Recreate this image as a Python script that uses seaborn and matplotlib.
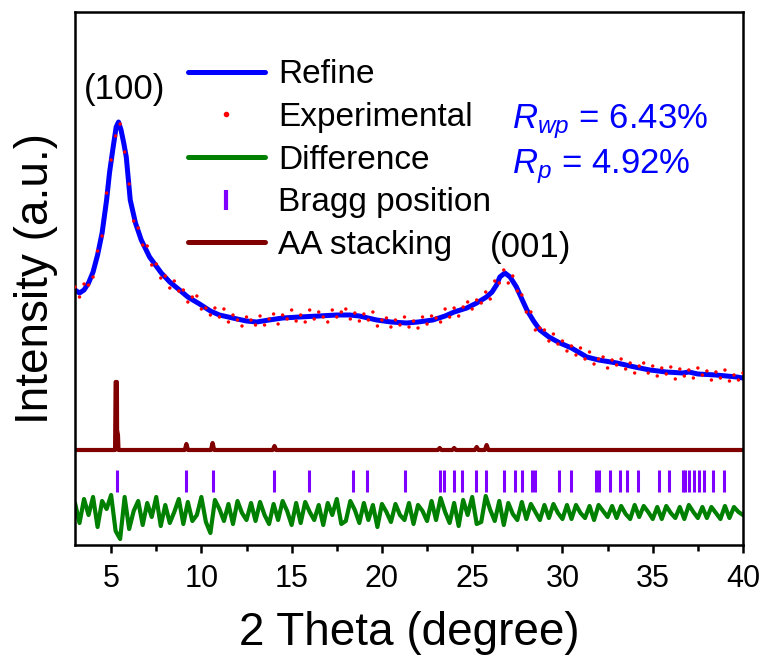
import numpy as np
import pandas as pd
import seaborn as sns
import matplotlib
matplotlib.use("Agg")
import matplotlib.pyplot as plt
from matplotlib.lines import Line2D

# ---------------- data ----------------
refine_x = [3.0, 3.25, 3.5, 3.75, 4.0, 4.25, 4.5, 4.75, 4.91, 5.09, 5.28, 5.41, 5.55, 5.7, 5.84,
            6.06, 6.35, 6.67, 7.13, 7.78, 8.25, 8.79, 9.25, 9.9, 10.5, 11.0, 11.73, 12.5, 13.06,
            13.75, 14.5, 15.44, 16.5, 17.5, 18.21, 18.75, 19.71, 20.5, 21.38, 22.0, 22.82, 23.5,
            24.0, 24.7, 25.25, 25.79, 26.1, 26.35, 26.53, 26.81, 27.1, 27.45, 27.75, 28.03, 28.4,
            28.75, 29.25, 29.86, 30.5, 31.35, 32.0, 33.02, 34.0, 34.84, 35.75, 36.67, 37.0, 37.5,
            38.5, 39.66, 40.0]
refine_y = [255, 252, 255, 262, 273, 290, 312, 345, 372, 395, 418, 423, 415, 402, 388,
            345, 322, 305, 288, 272, 263, 255, 248, 241, 234, 230, 227, 224, 223,
            225, 227, 228, 229, 230, 230, 229, 225, 223, 222, 223, 225, 229,
            233, 237, 242, 248, 253, 260, 268, 272, 268, 258, 246, 235, 224,
            215, 208, 202, 197, 188, 185, 182, 178, 175, 173, 172, 173, 171,
            170, 168, 167]

exp_x = np.arange(3.0, 40.001, 0.25)
exp_y = [258, 248, 261, 260, 268, 294, 309, 352, 385, 409,
         421, 393, 361, 324, 317, 300, 299, 280, 281, 267,
         269, 257, 264, 254, 255, 243, 248, 249, 236, 237,
         230, 237, 228, 236, 223, 230, 225, 219, 228, 225,
         220, 229, 220, 226, 231, 221, 230, 226, 235, 224,
         230, 223, 235, 226, 233, 228, 223, 235, 228, 233,
         236, 226, 232, 224, 231, 225, 233, 219, 225, 227,
         218, 225, 220, 228, 218, 224, 217, 228, 221, 229,
         227, 223, 236, 228, 237, 229, 238, 243, 236, 245,
         242, 253, 246, 264, 262, 275, 262, 269, 254, 250,
         233, 233, 215, 217, 215, 204, 211, 201, 204, 194,
         199, 190, 197, 186, 193, 181, 186, 188, 177, 185,
         180, 186, 176, 182, 172, 179, 182, 172, 179, 169,
         177, 171, 178, 166, 176, 169, 175, 167, 177, 170,
         174, 165, 173, 167, 175, 164, 170, 165, 172]

diff_y = [42, 22, 46, 30, 48, 18, 44, 36, 50, 14,
          6, 48, 16, 34, 44, 20, 42, 28, 48, 19,
          40, 22, 33, 46, 21, 43, 24, 30, 48, 23,
          12, 45, 36, 24, 41, 21, 44, 32, 25, 42,
          24, 43, 30, 21, 41, 25, 44, 34, 20, 42,
          22, 43, 33, 25, 40, 20, 42, 30, 46, 21,
          24, 44, 35, 22, 42, 25, 40, 18, 41, 33,
          23, 41, 30, 25, 42, 21, 40, 34, 24, 44,
          25, 47, 33, 22, 42, 19, 45, 30, 48, 21,
          23, 49, 35, 24, 44, 20, 42, 31, 25, 43,
          26, 41, 33, 25, 40, 27, 41, 32, 26, 40,
          26, 40, 32, 27, 39, 25, 40, 34, 28, 39,
          27, 39, 31, 26, 40, 28, 39, 33, 26, 38,
          26, 39, 32, 27, 38, 26, 40, 33, 27, 38,
          27, 38, 32, 26, 39, 27, 38, 33, 30]

aa_x = [3.0, 5.22, 5.25, 5.32, 5.33, 5.38, 5.41, 9.08, 9.17, 9.26, 10.53, 10.62, 10.71,
        13.96, 14.05, 14.14, 23.1, 23.2, 23.3, 23.9, 24.0, 24.1, 25.15, 25.25, 25.35,
        25.7, 25.8, 25.9, 40.0]
aa_y = [95, 95, 163, 163, 115, 110, 95, 95, 101, 95, 95, 102, 95,
        95, 99, 95, 95, 97, 95, 95, 97, 95, 95, 98, 95,
        95, 100, 95, 95]

bragg_pos = [5.30, 9.17, 10.62, 14.05, 15.94, 18.40, 19.20, 21.30, 23.19, 23.43, 24.01,
             24.44, 25.22, 25.79, 26.74, 27.39, 27.75, 28.31, 28.50, 29.81, 30.48, 31.86,
             32.05, 32.66, 33.19, 33.57, 34.16, 35.32, 35.92, 36.65, 36.81, 37.01, 37.30,
             37.54, 37.85, 38.34, 38.94]
bragg_lo, bragg_hi = 53, 75

x_ticks = [5, 10, 15, 20, 25, 30, 35, 40]

# ---------------- style ----------------
sns.set_theme(style="ticks")
plt.rcParams['font.family'] = ['Liberation Sans', 'DejaVu Sans']
plt.rcParams['mathtext.fontset'] = 'custom'
plt.rcParams['mathtext.rm'] = 'Liberation Sans'
plt.rcParams['mathtext.it'] = 'Liberation Sans:italic'
plt.rcParams['text.color'] = 'black'
plt.rcParams['axes.labelcolor'] = 'black'
plt.rcParams['xtick.color'] = 'black'

fig = plt.figure(figsize=(7.65, 6.64), dpi=100)
ax = fig.add_axes([75 / 765, 1 - 545 / 664, (743 - 75) / 765, (545 - 12) / 664])

BLUE = '#0000FF'
RED = '#FF0000'
GREEN = '#008000'
BRAGG = '#8000FF'
AA = '#800000'

df_ref = pd.DataFrame({'x': refine_x, 'y': refine_y})
df_exp = pd.DataFrame({'x': exp_x, 'y': exp_y})
df_diff = pd.DataFrame({'x': exp_x, 'y': diff_y})
df_aa = pd.DataFrame({'x': aa_x, 'y': aa_y})

sns.lineplot(data=df_diff, x='x', y='y', ax=ax, color=GREEN, lw=3.0, sort=False)
sns.lineplot(data=df_aa, x='x', y='y', ax=ax, color=AA, lw=3.0, sort=False)
ax.vlines(bragg_pos, bragg_lo, bragg_hi, color=BRAGG, lw=2.2)
sns.lineplot(data=df_ref, x='x', y='y', ax=ax, color=BLUE, lw=3.6, sort=False)
sns.scatterplot(data=df_exp, x='x', y='y', ax=ax, color=RED, s=6, edgecolor='none', zorder=5)

ax.set_xlim(3, 40)
ax.set_ylim(0, 533)
ax.set_xticks(x_ticks)
ax.set_xticks(np.arange(7.5, 40, 5), minor=True)
ax.set_yticks([])
ax.tick_params(axis='x', which='major', direction='out', length=6, width=1.8,
               labelsize=22, pad=8, colors='black')
ax.tick_params(axis='x', which='minor', direction='out', length=4, width=1.8)
for s in ax.spines.values():
    s.set_linewidth(1.8)
    s.set_color('black')
    s.set_visible(True)

ax.set_xlabel('2 Theta (degree)', fontsize=33, labelpad=12, color='black')
ax.set_ylabel('Intensity (a.u.)', fontsize=33, labelpad=12, color='black')

ax.text(5.74, 455, '(100)', fontsize=25, ha='center', va='center', color='black')
ax.text(28.25, 298, '(001)', fontsize=25, ha='center', va='center', color='black')
ax.text(27.2, 423, r'$R_{wp}$ = 6.43%', fontsize=25, color=BLUE, ha='left', va='center')
ax.text(27.2, 378, r'$R_{p}$ = 4.92%', fontsize=25, color=BLUE, ha='left', va='center')

handles = [
    Line2D([], [], color=BLUE, lw=3.6),
    Line2D([], [], color=RED, marker='o', ls='none', markersize=3),
    Line2D([], [], color=GREEN, lw=3.6),
    Line2D([], [], color=BRAGG, marker='|', ls='none', markersize=14, markeredgewidth=3),
    Line2D([], [], color=AA, lw=3.6),
]
labels = ['Refine', 'Experimental', 'Difference', 'Bragg position', 'AA stacking']
leg = ax.legend(handles, labels, loc='upper left', bbox_to_anchor=(0.169, 0.911),
                frameon=False, fontsize=24, handlelength=2.3, handletextpad=0.4,
                labelspacing=0.35, borderpad=0, borderaxespad=0)
for t in leg.get_texts():
    t.set_color('black')

fig.savefig('out.png', dpi=100)
